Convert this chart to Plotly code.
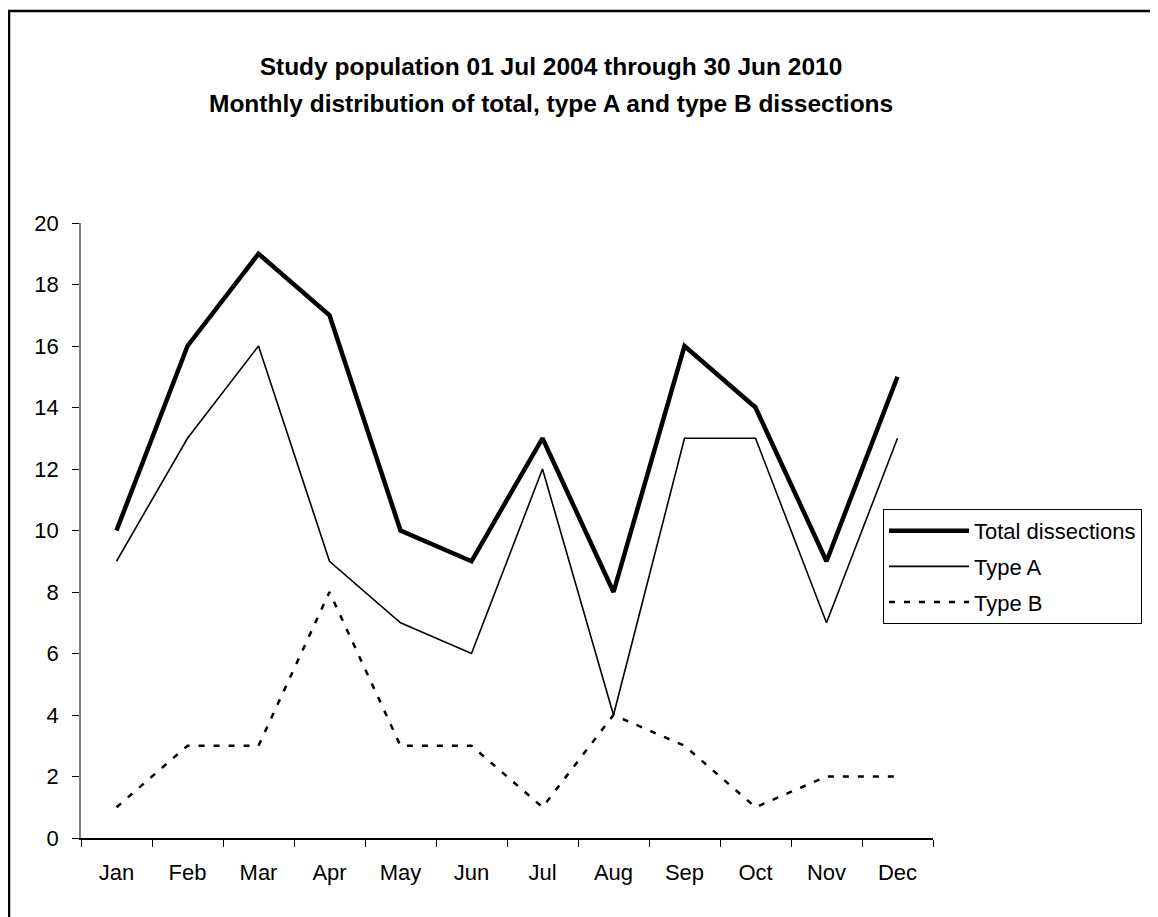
import plotly.graph_objects as go

months = ["Jan", "Feb", "Mar", "Apr", "May", "Jun", "Jul", "Aug", "Sep", "Oct", "Nov", "Dec"]
total = [10, 16, 19, 17, 10, 9, 13, 8, 16, 14, 9, 15]
type_a = [9, 13, 16, 9, 7, 6, 12, 4, 13, 13, 7, 13]
type_b = [1, 3, 3, 8, 3, 3, 1, 4, 3, 1, 2, 2]

title_line1 = "Study population 01 Jul 2004 through 30 Jun 2010"
title_line2 = "Monthly distribution of total, type A and type B dissections"

FONT = "Liberation Sans, Arial, sans-serif"

fig = go.Figure()
fig.add_trace(go.Scatter(x=months, y=total, mode="lines", name="Total dissections",
                         legendgroup="t", line=dict(color="black", width=4.5)))
fig.add_trace(go.Scatter(x=months, y=type_a, mode="lines", name="Type A",
                         legendgroup="a", line=dict(color="black", width=1.6)))
fig.add_trace(go.Scatter(x=months, y=type_b, mode="lines", name="Type B",
                         legendgroup="b", line=dict(color="black", width=2.5, dash="6px,9px")))

# page body has an 8px margin; figure is sized to fill the rest of the window
W, H = 1150, 909
L, R, T, B = 73, 925, 215, 830
pw, ph = R - L, B - T

fig.update_layout(
    width=W, height=H,
    margin=dict(l=L, r=W - R, t=T, b=H - B),
    paper_bgcolor="white", plot_bgcolor="white",
    font=dict(family=FONT, size=22, color="black"),
    title=dict(text="<b>" + title_line1 + "</b>",
               x=543 / W, xanchor="center", yref="container", y=1 - 58 / H, yanchor="middle",
               font=dict(size=24.5, family=FONT)),
    showlegend=True,
    legend=dict(x=(875 - L) / pw, xanchor="left", y=(B - 501) / ph, yanchor="top",
                bordercolor="black", borderwidth=1, bgcolor="white",
                font=dict(size=22, family=FONT), itemwidth=80,
                traceorder="grouped", tracegroupgap=4),
    xaxis=dict(type="category", range=[-0.5, 11.5], showline=True, linecolor="black",
               linewidth=1.5, ticks="outside", tickson="boundaries", ticklen=7,
               tickcolor="black", showgrid=False, zeroline=False, ticklabelstandoff=14),
    yaxis=dict(range=[0, 20], dtick=2, showline=True, linecolor="#808080", linewidth=1.5,
               ticks="outside", ticklen=7, tickcolor="black", showgrid=False,
               zeroline=False, ticklabelstandoff=9),
)

fig.add_annotation(text="<b>" + title_line2 + "</b>", xref="paper", yref="paper",
                   x=(543 - L) / pw, xanchor="center", y=(B - 96) / ph, yanchor="middle",
                   showarrow=False, font=dict(size=24.5, family=FONT, color="black"))

fig.add_shape(type="rect", xref="paper", yref="paper",
              x0=(1 - L) / pw, x1=(W + 30 - L) / pw,
              y0=(B - (H + 30)) / ph, y1=(B - 3) / ph,
              line=dict(color="black", width=2.5), fillcolor="rgba(0,0,0,0)", layer="below")

fig.write_html("out.html")
